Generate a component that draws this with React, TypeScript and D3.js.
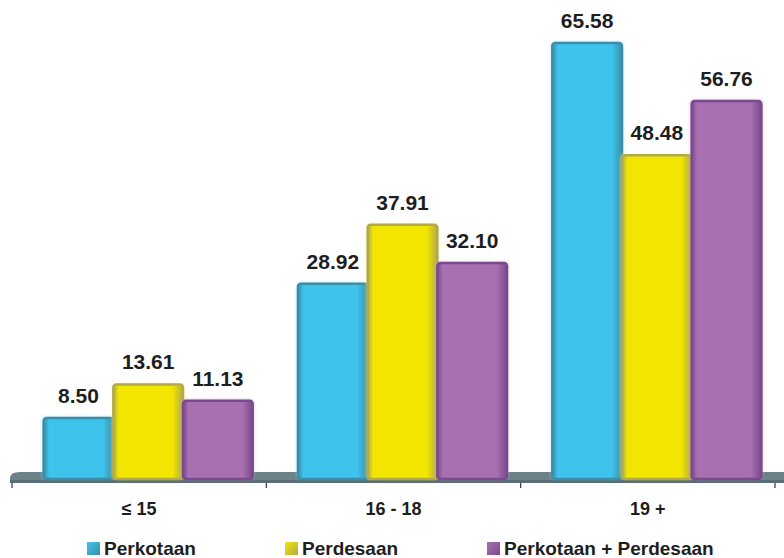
import React from "react";
import * as d3 from "d3";

const categories = ["≤ 15", "16 - 18", "19 +"];
const seriesNames = ["Perkotaan", "Perdesaan", "Perkotaan + Perdesaan"];
const perkotaan = [8.5, 28.92, 65.58];
const perdesaan = [13.61, 37.91, 48.48];
const gabungan = [11.13, 32.1, 56.76];

const fills = ["#3ec4ec", "#f2e600", "#a870b0"];
const edges = ["#3a8ea8", "#b2aa4a", "#7a4a8e"];
const lights = ["#8fdcf4", "#faf39a", "#cfa6d6"];

const W = 784;
const H = 558;

export default function App() {
  const seriesValues = [perkotaan, perdesaan, gabungan];
  const x = d3.scaleBand<string>().domain(categories).range([12, 775]).paddingInner(0).paddingOuter(0);
  const xi = d3
    .scaleBand<number>()
    .domain([0, 1, 2])
    .range([0, x.bandwidth()])
    .paddingOuter(0.325)
    .paddingInner(0);
  const y = d3.scaleLinear().domain([0, 70]).range([473.8, 13.9]);
  const depth = 9;
  const floorTop = 472;
  const floorBottom = 483;
  const barBottom = 479;
  const ticks = [12, ...categories.map((c) => (x(c) as number) + x.bandwidth())];

  const legendX = [87, 285, 487];

  return (
    <svg width={W} height={H} style={{ position: "absolute", left: 0, top: 0, background: "#fff" }}>
      <defs>
        {fills.map((f, i) => (
          <linearGradient key={i} id={`g${i}`} x1="0" x2="1" y1="0" y2="0">
            <stop offset="0" stopColor={edges[i]} />
            <stop offset="0.08" stopColor={f} />
            <stop offset="0.85" stopColor={f} />
            <stop offset="1" stopColor={edges[i]} />
          </linearGradient>
        ))}
        {fills.map((f, i) => (
          <linearGradient key={i} id={`lg${i}`} x1="0" x2="1" y1="0" y2="1">
            <stop offset="0" stopColor={f} />
            <stop offset="1" stopColor={edges[i]} />
          </linearGradient>
        ))}
        <filter id="glow" x="-10%" y="-10%" width="120%" height="120%">
          <feGaussianBlur stdDeviation="1.6" />
        </filter>
      </defs>

      {/* floor */}
      <path
        d={`M10,${floorBottom} L10,${floorTop + 6} Q10,${floorTop} 20,${floorTop} L${W},${floorTop} L${W},${floorBottom} Z`}
        fill="#6d8189"
      />
      <rect x={10} y={floorBottom - 3} width={W - 10} height={3} fill="#5a6d75" />

      {/* bars */}
      {categories.map((c, ci) =>
        seriesValues.map((vals, si) => {
          const bx = (x(c) as number) + (xi(si) as number) + depth;
          const bw = xi.bandwidth();
          const top = y(vals[ci]);
          return (
            <g key={`${ci}-${si}`}>
              <rect
                x={bx - 1.5}
                y={top - 1.5}
                width={bw + 3}
                height={barBottom - top + 1.5}
                rx={4}
                fill={lights[si]}
                opacity={0.6}
                filter="url(#glow)"
              />
              <rect
                x={bx}
                y={top}
                width={bw}
                height={barBottom - top}
                rx={3}
                fill={`url(#g${si})`}
                stroke={edges[si]}
                strokeWidth={2.5}
              />
            </g>
          );
        })
      )}

      {/* value labels */}
      {categories.map((c, ci) =>
        seriesValues.map((vals, si) => {
          const bx = (x(c) as number) + (xi(si) as number) + depth;
          const bw = xi.bandwidth();
          return (
            <text
              key={`l${ci}-${si}`}
              x={bx + bw / 2}
              y={y(vals[ci]) - 15}
              textAnchor="middle"
              fontFamily="Liberation Sans, Arial, sans-serif"
              fontWeight="bold"
              fontSize={21}
              fill="#1e1e1e"
            >
              {vals[ci].toFixed(2)}
            </text>
          );
        })
      )}

      {/* axis ticks */}
      {ticks.map((t, i) => (
        <line key={i} x1={t} x2={t} y1={floorBottom} y2={488} stroke="#333" strokeWidth={1.2} />
      ))}

      {/* category labels */}
      {categories.map((c) => (
        <text
          key={c}
          x={(x(c) as number) + x.bandwidth() / 2}
          y={515}
          textAnchor="middle"
          fontFamily="Liberation Sans, Arial, sans-serif"
          fontWeight="bold"
          fontSize={18}
          fill="#1e1e1e"
        >
          {c}
        </text>
      ))}

      {/* legend */}
      {seriesNames.map((n, i) => (
        <g key={n}>
          <rect x={legendX[i]} y={542} width={13} height={13} fill={`url(#lg${i})`} />
          <text
            x={legendX[i] + 17}
            y={554.5}
            fontFamily="Liberation Sans, Arial, sans-serif"
            fontWeight="bold"
            fontSize={19}
            fill="#1e1e1e"
          >
            {n}
          </text>
        </g>
      ))}
    </svg>
  );
}
